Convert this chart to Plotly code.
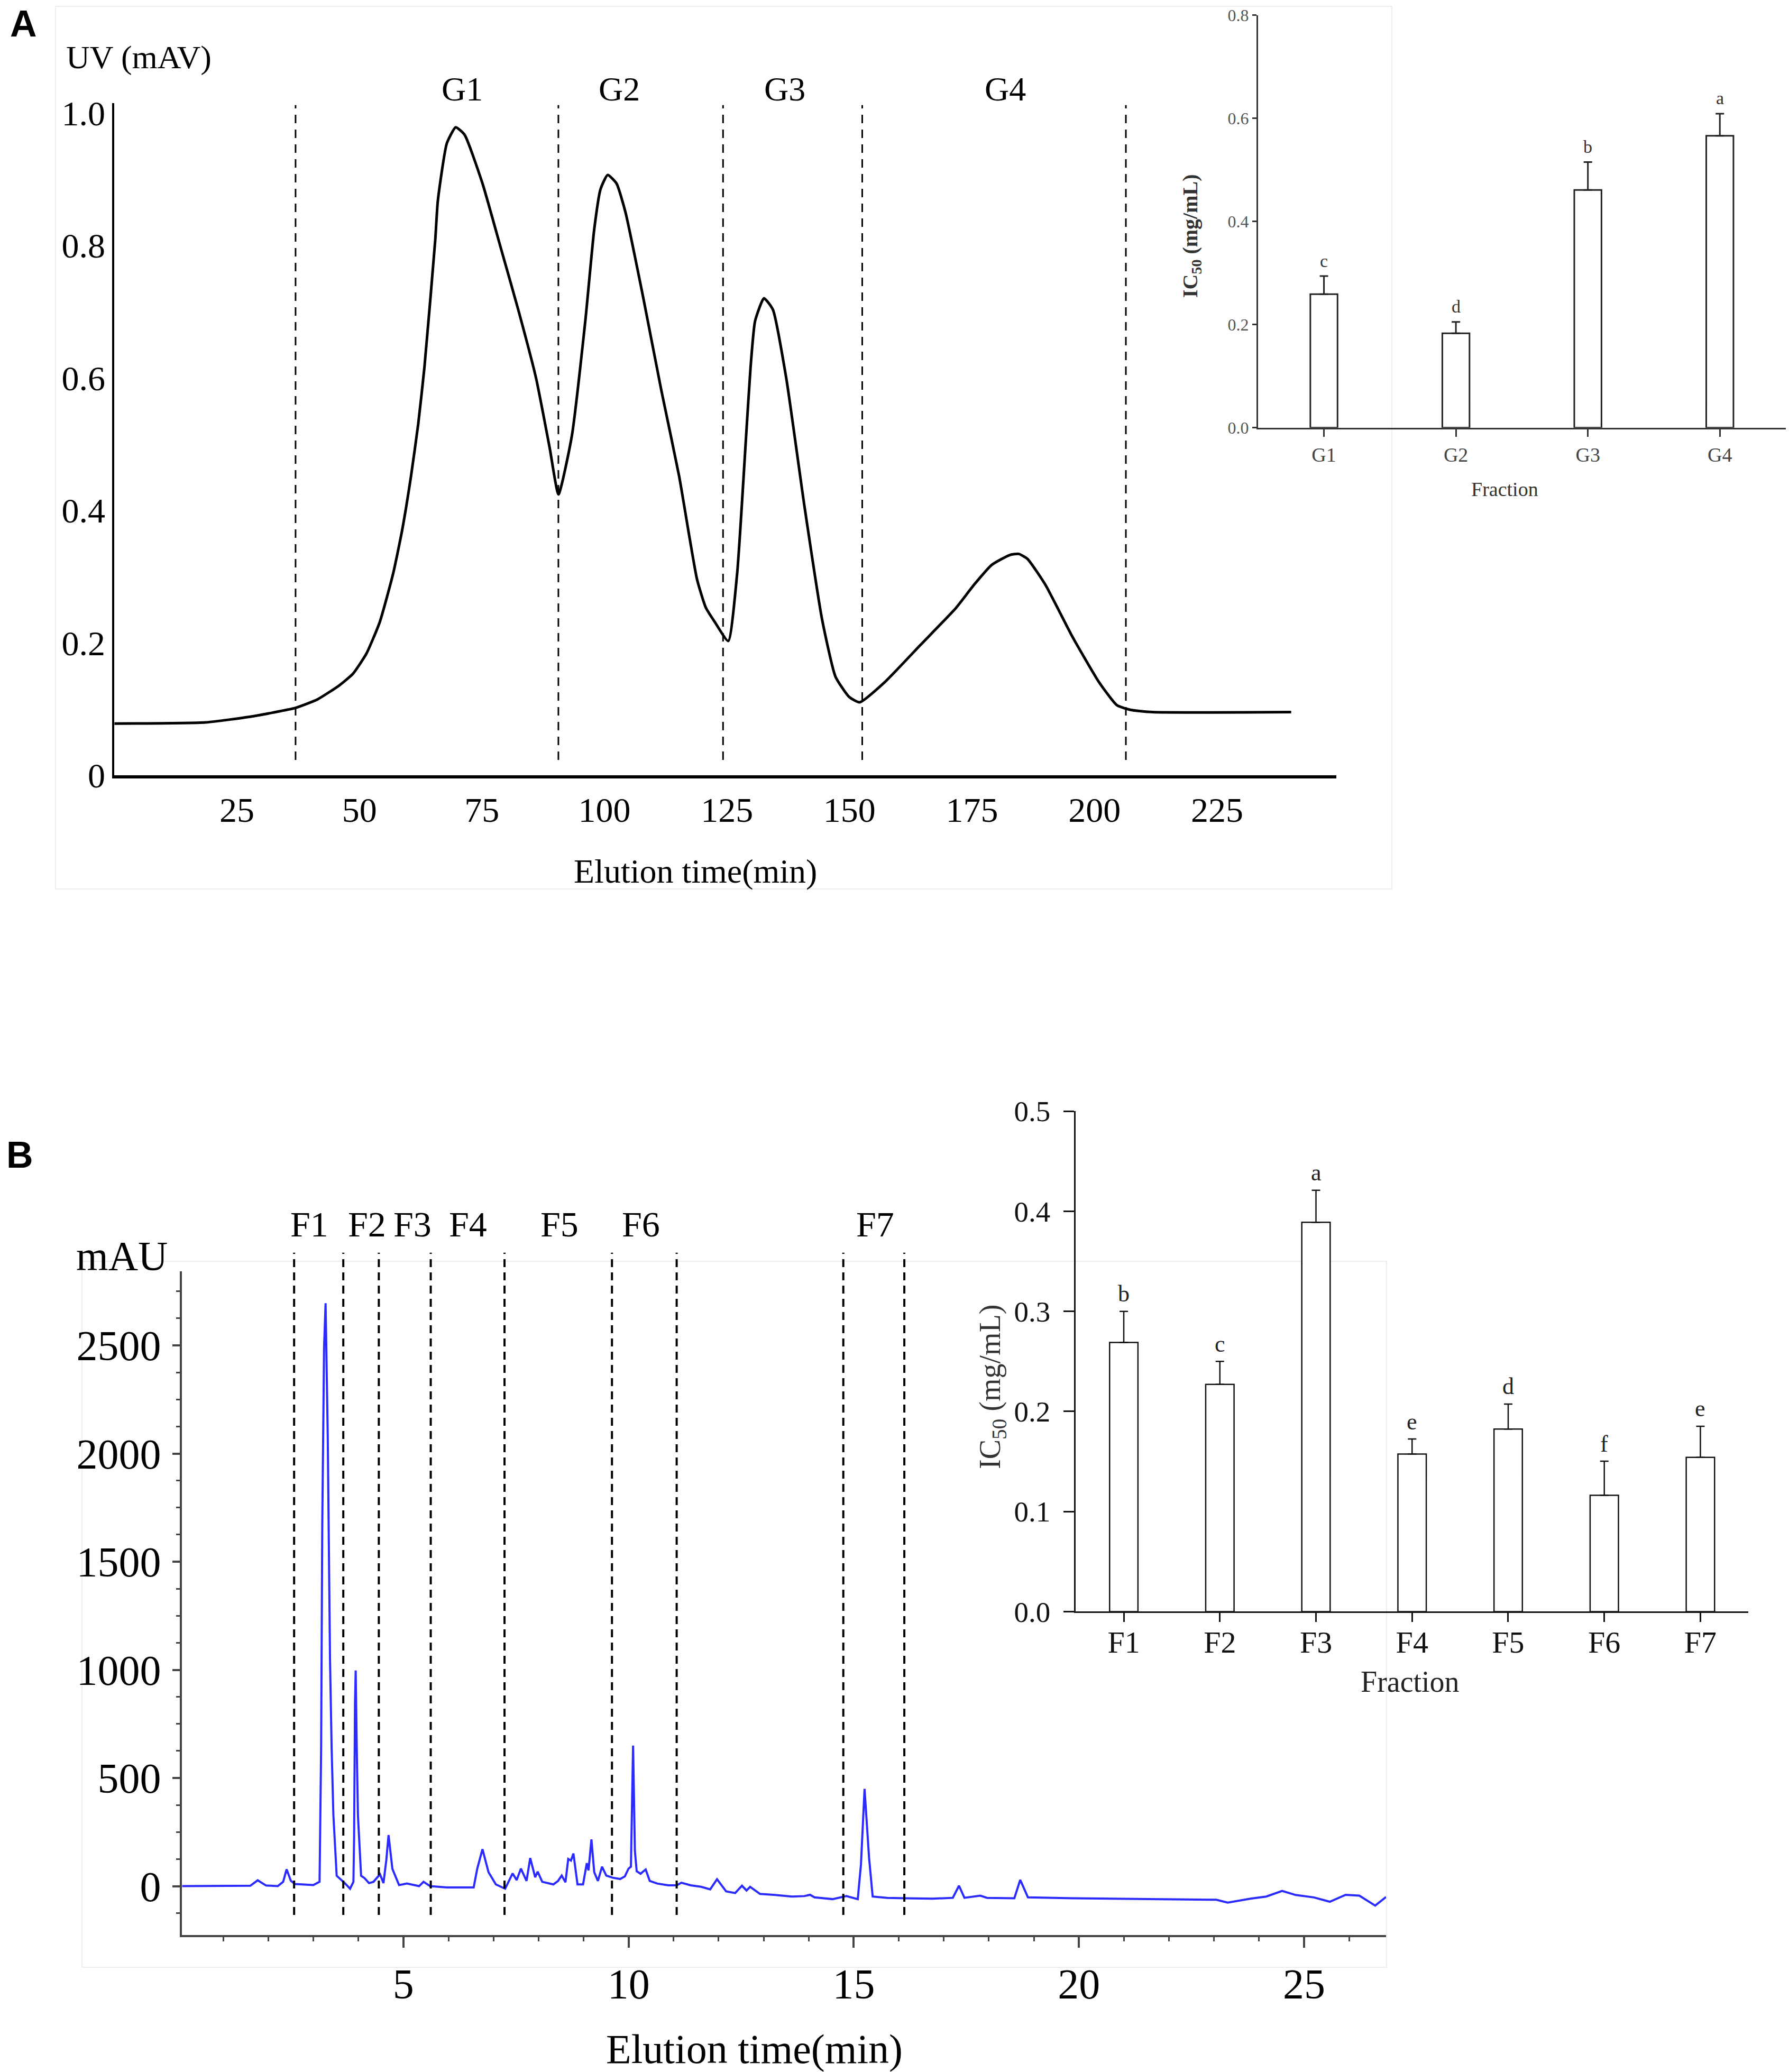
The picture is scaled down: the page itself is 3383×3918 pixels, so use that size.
import plotly.graph_objects as go

SERIF = "Liberation Serif"
SANS = "Liberation Sans"

# ---------------- Panel A : gel-filtration chromatogram ----------------
a_time = [0, 18.6, 27.71, 32.27, 36.83, 41.39, 45.95, 48.68, 51.42, 54.15, 56.89, 58.71,
          60.53, 61.99, 63.27, 65.46, 66.0, 67.83,
          69.65, 71.47, 75.12, 78.77, 82.41, 86.06, 88.80, 90.62, 93.35, 96.09, 97.91,
          99.19, 100.65, 102.47, 104.29, 107.94, 111.59, 115.23, 118.88, 120.70, 122.53,
          125.26, 127.08, 128.91, 129.82, 130.73, 132.55, 134.38, 137.11, 140.76, 144.4,
          147.14, 149.88, 152.07, 157.17, 164.46, 171.76, 175.40, 179.05, 182.70, 184.52,
          186.34, 189.99, 195.46, 200.93, 204.58, 207.31, 211.87, 240.13]
a_uv = [0.0779, 0.0797, 0.0883, 0.0944, 0.1013, 0.1143, 0.1359, 0.1532, 0.1835, 0.2312,
        0.3048, 0.3697, 0.4519, 0.5299, 0.6165, 0.8069,
        0.8675, 0.9541, 0.9784, 0.9671, 0.8935, 0.7983, 0.7030, 0.5991, 0.4952, 0.4242,
        0.5126, 0.6857, 0.8242, 0.8848, 0.9065, 0.8935, 0.8502, 0.7203, 0.5818, 0.4519,
        0.2961, 0.2528, 0.2312, 0.2026, 0.3048, 0.5126, 0.6165, 0.6857, 0.7203, 0.7030,
        0.5991, 0.4087, 0.2355, 0.1489, 0.1186, 0.1100, 0.1403, 0.1965, 0.2528, 0.2874,
        0.3177, 0.3325, 0.3342, 0.3264, 0.2874, 0.2095, 0.1403, 0.1056, 0.0987, 0.0952,
        0.0952]
a_bounds = [36.97, 90.6, 124.2, 152.6, 206.4]
a_group_labels = ["G1", "G2", "G3", "G4"]
a_group_label_x = [70.96, 103.0, 136.8, 181.8]
a_xticks = [25, 50, 75, 100, 125, 150, 175, 200, 225]
a_yticks = [0, 0.2, 0.4, 0.6, 0.8, 1.0]
a_yticktext = ["0", "0.2", "0.4", "0.6", "0.8", "1.0"]

# ---------------- Panel A inset : IC50 of G fractions ----------------
a_frac = ["G1", "G2", "G3", "G4"]
a_ic50 = [0.259, 0.183, 0.461, 0.566]
a_err = [0.035, 0.022, 0.054, 0.043]
a_letters = ["c", "d", "b", "a"]
a_inset_yticks = [0.0, 0.2, 0.4, 0.6, 0.8]

# ---------------- Panel B : RP-HPLC chromatogram ----------------
b_time = [0.086, 1.0, 1.6, 1.764, 1.95, 2.21, 2.33, 2.406, 2.5, 2.59, 3.0, 3.138, 3.173,
          3.198, 3.238, 3.272, 3.299, 3.32, 3.37, 3.406, 3.445, 3.518, 3.693, 3.816, 3.89,
          3.905, 3.925, 3.94, 3.964, 3.99, 4.06, 4.137, 4.236, 4.335, 4.48, 4.557, 4.62,
          4.67, 4.755, 4.903, 5.076, 5.348, 5.447, 5.595, 5.965, 6.56, 6.64, 6.756, 6.889,
          7.053, 7.259, 7.341, 7.425, 7.515, 7.609, 7.734, 7.816, 7.926, 7.98, 8.083, 8.33,
          8.433, 8.515, 8.598, 8.66, 8.72, 8.775, 8.866, 8.989, 9.072, 9.11, 9.175, 9.237,
          9.319, 9.41, 9.505, 9.649, 9.813, 9.917, 9.999, 10.052, 10.1, 10.14, 10.18,
          10.267, 10.308, 10.38, 10.47, 10.636, 10.884, 11.07, 11.172, 11.38, 11.61,
          11.812, 11.964, 12.166, 12.367, 12.518, 12.619, 12.699, 12.92, 13.224, 13.627,
          13.9, 14.03, 14.13, 14.53, 14.836, 15.089, 15.16, 15.24, 15.34, 15.42, 15.74,
          16.15, 16.75, 17.2, 17.337, 17.458, 17.81, 17.96, 18.566, 18.697, 18.868, 19.876,
          20.885, 21.389, 23.05, 23.304, 23.808, 24.16, 24.513, 24.815, 25.218, 25.571,
          25.924, 26.227, 26.579, 26.82]
b_mau = [0, 0, 2, 27, 3, 0, 20, 78, 25, 10, 5, 20, 637,
         1667, 2490, 2695, 2400, 2078, 1049, 637, 328, 48, 15, -12, 20,
         226, 843, 997, 637, 328, 48, 37, 14, 20, 55, 14, 120,
         236, 80, 5, 12, 0, 20, 0, -6, -6, 81, 171, 65,
         8, -12, 24, 59, 28, 81, 24, 130, 41, 67, 20, 8,
         24, 49, 18, 126, 118, 151, 8, 8, 106, 73, 216, 65,
         24, 90, 49, 39, 33, 45, 81, 90, 650, 163, 69,
         57, 65, 77, 24, 12, 4, 4, 16, 4, -3,
         -15, 32, -24, -32, 2, -20, -3, -36, -40, -48,
         -46, -40, -52, -60, -46, -60, 100, 450, 131, -48, -54,
         -56, -58, -54, 2, -54, -44, -54, -56, 29, -52, -56,
         -58, -61, -63, -76, -58, -48, -22, -41, -52, -72,
         -40, -44, -90, -50]
b_bounds = [2.573, 3.665, 4.454, 5.607, 7.245, 9.631, 11.068, 14.768, 16.123]
b_frac_labels = ["F1", "F2", "F3", "F4", "F5", "F6", "F7"]
b_frac_label_x = [2.917, 4.19, 5.2, 6.44, 8.46, 10.28, 15.48]

# ---------------- Panel B inset : IC50 of F fractions ----------------
b_frac = ["F1", "F2", "F3", "F4", "F5", "F6", "F7"]
b_ic50 = [0.269, 0.227, 0.389, 0.1575, 0.1824, 0.1163, 0.1542]
b_err = [0.031, 0.023, 0.032, 0.015, 0.025, 0.034, 0.031]
b_letters = ["b", "c", "a", "e", "d", "f", "e"]

fig = go.Figure()

fig.add_trace(go.Scatter(x=a_time, y=a_uv, mode="lines",
                         line=dict(color="black", width=5, shape="spline", smoothing=0.5),
                         xaxis="x", yaxis="y", showlegend=False, hoverinfo="skip"))

fig.add_trace(go.Bar(x=a_frac, y=a_ic50, width=0.206,
                     marker=dict(color="white", line=dict(color="#222222", width=3)),
                     error_y=dict(type="data", symmetric=False, array=a_err,
                                  arrayminus=[0] * len(a_err), color="#222222",
                                  thickness=3, width=8),
                     xaxis="x2", yaxis="y2", showlegend=False))

fig.add_trace(go.Scatter(x=b_time, y=b_mau, mode="lines",
                         line=dict(color="#2b2bff", width=4),
                         xaxis="x3", yaxis="y3", showlegend=False, hoverinfo="skip"))

fig.add_trace(go.Bar(x=b_frac, y=b_ic50, width=0.295,
                     marker=dict(color="white", line=dict(color="#111111", width=2.5)),
                     error_y=dict(type="data", symmetric=False, array=b_err,
                                  arrayminus=[0] * len(b_err), color="#111111",
                                  thickness=2.5, width=8),
                     xaxis="x4", yaxis="y4", showlegend=False))

shapes = []
shapes.append(dict(type="rect", xref="paper", yref="paper", x0=0.03104, x1=0.77801,
                   y0=0.57096, y1=0.99694, line=dict(color="#ededed", width=2), layer="below"))
shapes.append(dict(type="rect", xref="paper", yref="paper", x0=0.04582, x1=0.77505,
                   y0=0.05054, y1=0.39127, line=dict(color="#ededed", width=2), layer="below"))
for t in a_bounds:
    shapes.append(dict(type="line", xref="x", yref="y", x0=t, x1=t, y0=0.023, y1=1.012,
                       line=dict(color="black", width=3, dash="16px,12px")))
for t in b_bounds:
    shapes.append(dict(type="line", xref="x3", yref="paper", x0=t, x1=t, y0=0.0758, y1=0.3954,
                       line=dict(color="black", width=4, dash="15px,10px")))


def note(text, x, y, xref="paper", yref="paper", size=60, color="black", family=SERIF,
         angle=0, yshift=0):
    return dict(text=text, x=x, y=y, xref=xref, yref=yref, showarrow=False,
                xanchor="center", yanchor="middle", textangle=angle, yshift=yshift,
                font=dict(family=family, size=size, color=color))


ann = []
ann.append(note("<b>A</b>", 0.0133, 0.98851, size=70, family=SANS))
ann.append(note("<b>B</b>", 0.01123, 0.44257, size=70, family=SANS))
ann.append(note("UV (mAV)", 0.07745, 0.97243, size=62))
ann.append(note("Elution time(min)", 0.3887, 0.5794, size=64))
for lab, xv in zip(a_group_labels, a_group_label_x):
    ann.append(note(lab, xv, 0.95712, xref="x", size=64))
for cat, v, e, l in zip(a_frac, a_ic50, a_err, a_letters):
    ann.append(note(l, cat, v + e, xref="x2", yref="y2", size=34, color="#333333",
                    yshift=29))
ann.append(note("Fraction", 0.84097, 0.76391, size=38, color="#333333"))
ann.append(note("<b>IC<sub>50</sub> (mg/mL)</b>", 0.66598, 0.88617, size=40,
                color="#333333", angle=-90))

ann.append(note("mAU", 0.06828, 0.39383, size=78))
ann.append(note("Elution time(min)", 0.42152, 0.01123, size=78))
for lab, xv in zip(b_frac_labels, b_frac_label_x):
    ann.append(note(lab, xv, 0.40926, xref="x3", size=68))
for cat, v, e, l in zip(b_frac, b_ic50, b_err, b_letters):
    ann.append(note(l, cat, v + e, xref="x4", yref="y4", size=44, color="#222222",
                    yshift=33))
ann.append(note("Fraction", 0.78806, 0.18836, size=56, color="#222222"))
ann.append(note("IC<sub>50</sub> (mg/mL)", 0.5545, 0.33078, size=56, color="#333333",
                angle=-90))

common = dict(showgrid=False, zeroline=False, showline=True, automargin=False)

fig.update_layout(
    width=3383, height=3918, margin=dict(l=0, r=0, t=0, b=0, pad=0, autoexpand=False),
    paper_bgcolor="white", plot_bgcolor="rgba(0,0,0,0)", showlegend=False,
    shapes=shapes, annotations=ann,
    xaxis=dict(domain=[0.06394, 0.74685], range=[0, 249.3], anchor="y",
               linecolor="black", linewidth=6, ticks="", tickvals=a_xticks,
               tickfont=dict(family=SERIF, size=66, color="black"),
               ticklabelstandoff=3, **common),
    yaxis=dict(domain=[0.62588, 0.95023], range=[0, 1.015], anchor="x",
               linecolor="black", linewidth=4, ticks="", tickvals=a_yticks,
               ticktext=a_yticktext,
               tickfont=dict(family=SERIF, size=66, color="black"),
               ticklabelstandoff=0, **common),
    xaxis2=dict(domain=[0.70316, 0.99823], range=[-0.5, 3.5], anchor="y2",
                linecolor="#333333", linewidth=3, ticks="outside", ticklen=14,
                tickwidth=3, tickcolor="#333333",
                tickfont=dict(family=SERIF, size=38, color="#444444"),
                ticklabelstandoff=2, **common),
    yaxis2=dict(domain=[0.79359, 0.99267], range=[0, 0.8], anchor="x2",
                linecolor="#333333", linewidth=3, ticks="outside", ticklen=8,
                tickwidth=3, tickcolor="#333333", tickvals=a_inset_yticks,
                tickformat=".1f",
                tickfont=dict(family=SERIF, size=32, color="#555555"),
                ticklabelstandoff=0, **common),
    xaxis3=dict(domain=[0.10180, 0.77476], range=[0.086, 26.82], anchor="y3",
                linecolor="#444444", linewidth=4, ticks="outside", ticklen=20,
                tickwidth=4, tickcolor="#444444", tick0=0, dtick=5,
                minor=dict(dtick=1, ticks="outside", ticklen=8, tickwidth=3,
                           tickcolor="#444444"),
                tickfont=dict(family=SERIF, size=80, color="black"),
                ticklabelstandoff=0, **common),
    yaxis3=dict(domain=[0.06600, 0.38647], range=[-227, 2843], anchor="x3",
                linecolor="#444444", linewidth=4, ticks="outside", ticklen=14,
                tickwidth=4, tickcolor="#444444", tick0=0, dtick=500,
                minor=dict(dtick=125, ticks="outside", ticklen=7, tickwidth=3,
                           tickcolor="#444444"),
                tickfont=dict(family=SERIF, size=80, color="black"),
                ticklabelstandoff=6, **common),
    xaxis4=dict(domain=[0.60130, 0.97733], range=[-0.5, 6.5], anchor="y4",
                linecolor="#111111", linewidth=3, ticks="outside", ticklen=17,
                tickwidth=3, tickcolor="#111111",
                tickfont=dict(family=SERIF, size=58, color="#111111"),
                ticklabelstandoff=-12, **common),
    yaxis4=dict(domain=[0.22218, 0.46371], range=[0, 0.5], anchor="x4",
                linecolor="#111111", linewidth=3, ticks="outside", ticklen=20,
                tickwidth=3, tickcolor="#111111", tick0=0, dtick=0.1,
                tickformat=".1f",
                tickfont=dict(family=SERIF, size=55, color="#111111"),
                ticklabelstandoff=14, **common),
)

fig.write_html("out.html", config={"displayModeBar": False},
               post_script="document.body.style.margin='0px';")
